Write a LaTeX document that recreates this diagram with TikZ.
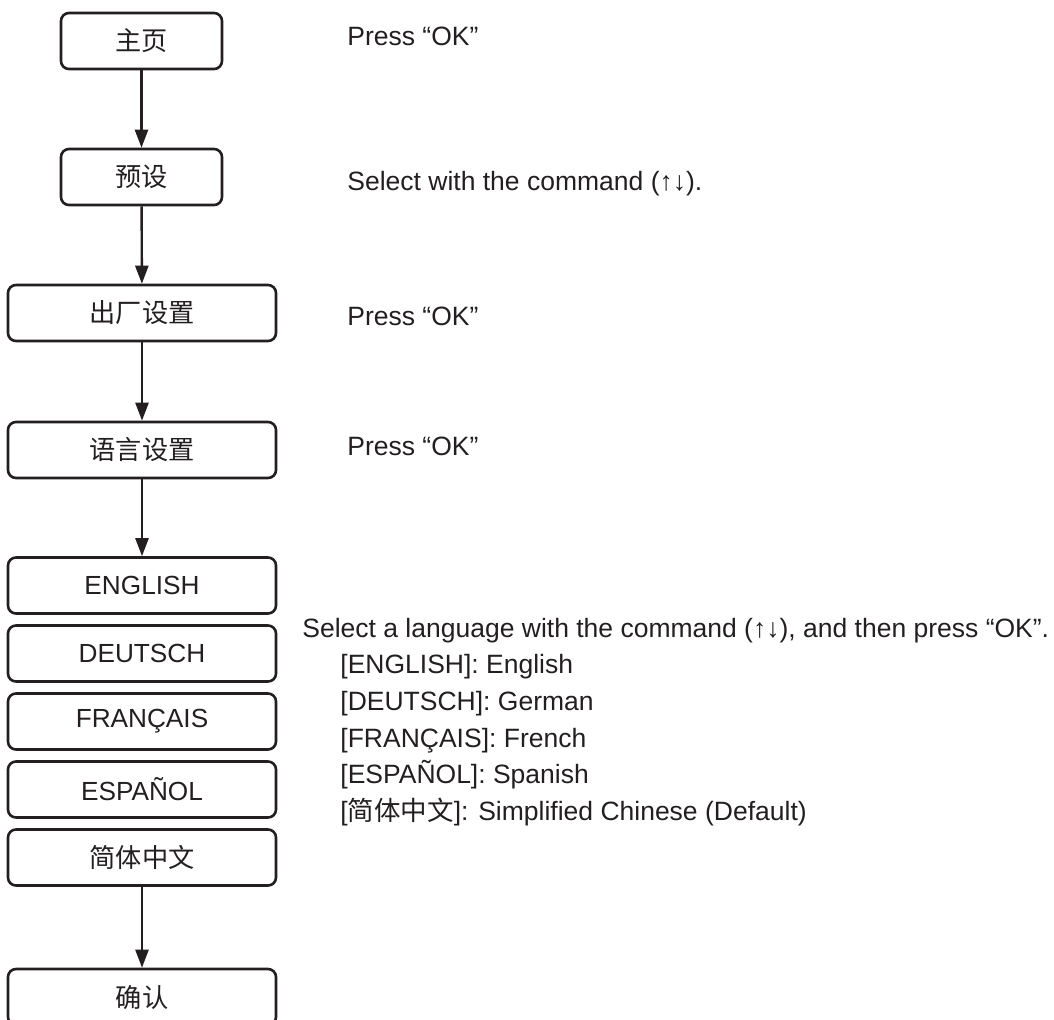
\documentclass[tikz,border=0pt]{standalone}
\usepackage{fontspec}
\setmainfont{Liberation Sans}
\newfontfamily\cjk{Noto Sans CJK SC}
\usetikzlibrary{arrows.meta}
\definecolor{inkgray}{RGB}{35,31,32}

\tikzset{
  menubox/.style={draw=inkgray, line width=1.3pt, rounded corners=4pt,
    minimum height=28pt, text=inkgray, font=\fontsize{13.1}{15}\selectfont},
  narrowbox/.style={menubox, minimum width=80.5pt},
  widebox/.style={menubox, minimum width=134pt},
  flow/.style={draw=inkgray, line width=1.2pt, -{Triangle[length=9pt,width=6.5pt]}},
  note/.style={anchor=base west, inner sep=0pt, text=inkgray,
    font=\fontsize{13.25}{15}\selectfont},
}

\begin{document}
\begin{tikzpicture}[x=0.5pt, y=-0.5pt]
            % Page frame
            \path[use as bounding box] (0,0) rectangle (1054,1019);
            \clip (0,0) rectangle (1054,1019);

            % Menu path
            \node[narrowbox] (home) at (141.5,41) {\cjk 主页};
            \node[narrowbox] (preset) at (141.5,177) {\cjk 预设};
            \node[widebox] (factory) at (142,313) {\cjk 出厂设置};
            \node[widebox] (langset) at (142,450) {\cjk 语言设置};

            % Language choices
            \node[widebox] (english) at (142,585.5) {ENGLISH};
            \node[widebox] (deutsch) at (142,653.5) {DEUTSCH};
            \node[widebox] (francais) at (142,721.5) {FRANÇAIS};
            \node[widebox] (espanol) at (142,789.5) {ESPAÑOL};
            \node[widebox] (chinese) at (142,857.5) {\cjk 简体中文};

            \node[widebox] (confirm) at (142,997) {\cjk 确认};

            % Arrows
            \draw[flow] (home) -- (preset);
            \draw[flow] (preset) -- (factory);
            \draw[flow] (factory) -- (langset);
            \draw[flow] (langset) -- (english);
            \draw[flow] (chinese) -- (confirm);

            % Instructions
            \node[note] (presshome) at (347,45) {Press “OK”};
            \node[note] (selectcmd) at (347,190) {Select with the command (↑↓).};
            \node[note] (pressfactory) at (347,325) {Press “OK”};
            \node[note] (presslang) at (347,455) {Press “OK”};

            \node[note] (langhint) at (302,637) {Select a language with the command (↑↓), and then press “OK”.};
            \node[note] (hinten) at (340,673.7) {[ENGLISH]: English};
            \node[note] (hintde) at (340,710.4) {[DEUTSCH]: German};
            \node[note] (hintfr) at (340,747.1) {[FRANÇAIS]: French};
            \node[note] (hintes) at (340,783.8) {[ESPAÑOL]: Spanish};
            \node[note] (hintzh) at (340,820.5) {[{\cjk 简体中文}]: Simplified Chinese (Default)};
        \end{tikzpicture}
\end{document}
